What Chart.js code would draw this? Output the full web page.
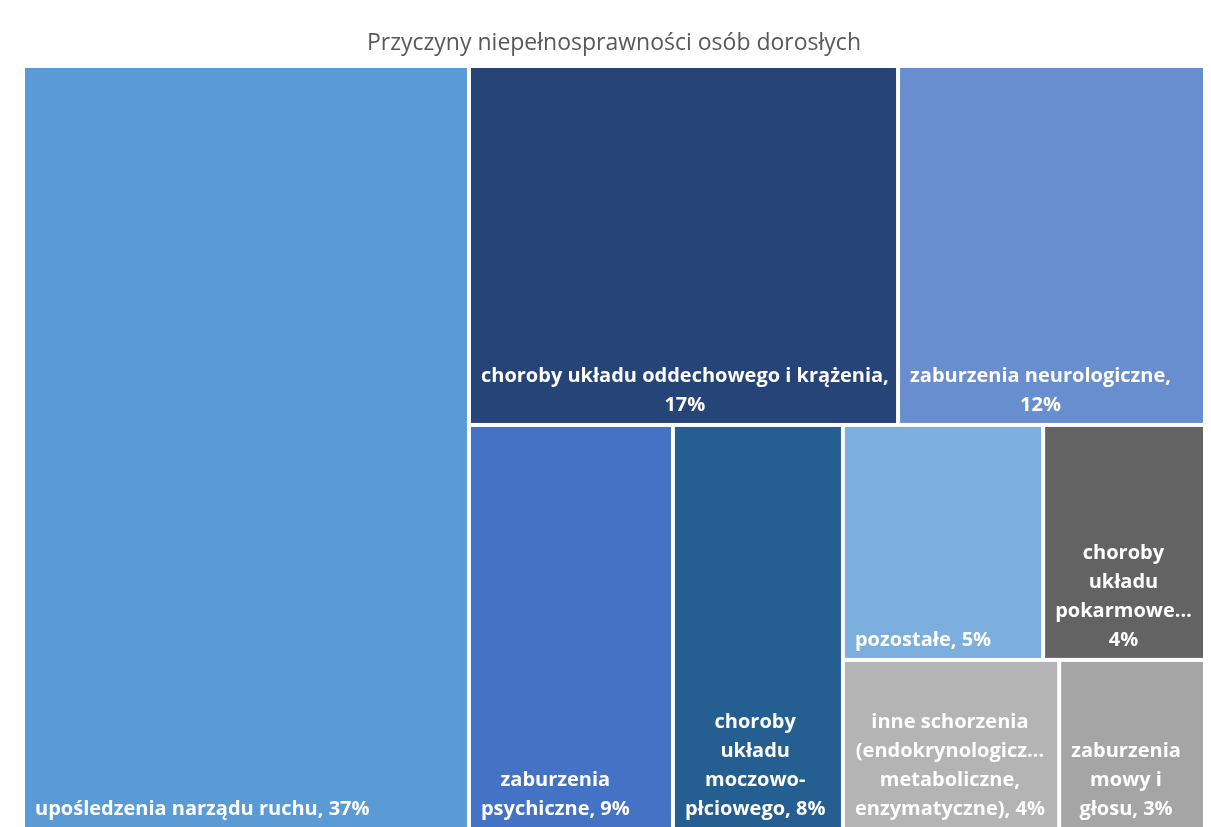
<!DOCTYPE html>
<html>
<head>
<meta charset="utf-8">
<script src="https://cdn.jsdelivr.net/npm/chart.js@4.4.1/dist/chart.umd.min.js"></script>
<style>
  html, body { margin: 0; padding: 0; background: #fff; overflow: hidden; }
</style>
</head>
<body>
<canvas id="treemap" width="1211" height="829"></canvas>
<script>
// categories and their share (%), sorted as in the chart
const categories = [
  "upośledzenia narządu ruchu",
  "choroby układu oddechowego i krążenia",
  "zaburzenia neurologiczne",
  "zaburzenia psychiczne",
  "choroby układu moczowo-płciowego",
  "pozostałe",
  "choroby układu pokarmowego",
  "inne schorzenia (endokrynologiczne, metaboliczne, enzymatyczne)",
  "zaburzenia mowy i głosu"
];
const values = [37.4, 16.93, 12.11, 9.06, 7.55, 5.17, 4.18, 4.02, 2.71];
const colors = ['#5B9BD5', '#264478', '#698ED0', '#4472C4', '#255E91', '#7CAFDD', '#636363', '#B4B4B4', '#A5A5A5'];

const GAP = 4;
const LABEL_FONT = 'bold 20px "Open Sans"';
const LINE_H = 29;
const PAD = 10;      // text offset from left edge
const WRAP_PAD = 8;  // margin used for wrapping

// squarified layout (d3 style, with aspect target ratio), in scale units 0..1
function squarify(vals, x0, y0, x1, y1, k, ratio) {
  const out = [];
  let total = vals.reduce((a, b) => a + b, 0);
  let i0 = 0, i1 = 0;
  const n = vals.length;
  while (i0 < n) {
    const dx = (x1 - x0) * k, dy = y1 - y0;
    let sum = vals[i1++], minV = sum, maxV = sum;
    const alpha = Math.max(dy / dx, dx / dy) / (total * ratio);
    let beta = sum * sum * alpha;
    let minRatio = Math.max(maxV / beta, beta / minV);
    for (; i1 < n; i1++) {
      const v = vals[i1];
      sum += v;
      if (v < minV) minV = v;
      if (v > maxV) maxV = v;
      beta = sum * sum * alpha;
      const r = Math.max(maxV / beta, beta / minV);
      if (r > minRatio) { sum -= v; break; }
      minRatio = r;
    }
    if (dx < dy) {
      const yb = y0 + (y1 - y0) * sum / total;
      let xx = x0;
      for (let i = i0; i < i1; i++) {
        const w = (x1 - x0) * vals[i] / sum;
        out.push({ index: i, x0: xx, x1: xx + w, y0: y0, y1: yb });
        xx += w;
      }
      y0 = yb;
    } else {
      const xb = x0 + (x1 - x0) * sum / total;
      let yy = y0;
      for (let i = i0; i < i1; i++) {
        const h = (y1 - y0) * vals[i] / sum;
        out.push({ index: i, x0: x0, x1: xb, y0: yy, y1: yy + h });
        yy += h;
      }
      x0 = xb;
    }
    total -= sum;
    i0 = i1;
  }
  return out;
}

function fitWord(ctx, w, maxW) {
  if (ctx.measureText(w).width <= maxW) return w;
  while (w.length > 1 && ctx.measureText(w + '…').width > maxW) w = w.slice(0, -1);
  return w + '…';
}

// break on spaces and after hyphens
function wrap(ctx, text, maxW) {
  const tokens = [];
  text.split(' ').forEach(word => {
    const parts = word.split(/(?<=-)/);
    parts.forEach((p, j) => tokens.push({ t: p, sep: j === 0 ? ' ' : '' }));
  });
  const lines = [];
  let cur = '';
  tokens.forEach(tok => {
    const w = fitWord(ctx, tok.t, maxW);
    const test = cur ? cur + tok.sep + w : w;
    if (ctx.measureText(test).width <= maxW) cur = test;
    else { if (cur) lines.push(cur); cur = w; }
  });
  if (cur) lines.push(cur);
  return lines;
}

const treemapPlugin = {
  id: 'treemap',
  afterDatasetsDraw(chart) {
    const { ctx, chartArea, scales: { x, y } } = chart;
    const k = chartArea.width / chartArea.height;
    const rects = squarify(values, 0, 0, 1, 1, k, 0.8);
    ctx.save();
    rects.forEach(r => {
      const left = x.getPixelForValue(r.x0) + GAP / 2;
      const right = x.getPixelForValue(r.x1) - GAP / 2;
      const top = y.getPixelForValue(r.y0) + GAP / 2;
      const bottom = y.getPixelForValue(r.y1) - GAP / 2;
      ctx.fillStyle = colors[r.index];
      ctx.fillRect(left, top, right - left, bottom - top);

      // label
      ctx.font = LABEL_FONT;
      const text = categories[r.index] + ', ' + Math.round(values[r.index]) + '%';
      const lines = wrap(ctx, text, right - left - 2 * WRAP_PAD);
      const bw = Math.max(...lines.map(l => ctx.measureText(l).width));
      const cx = left + PAD + bw / 2;
      ctx.fillStyle = '#ffffff';
      ctx.textAlign = 'center';
      ctx.textBaseline = 'middle';
      lines.forEach((l, i) => {
        ctx.fillText(l, cx, bottom - 18 - (lines.length - 1 - i) * LINE_H);
      });
    });
    ctx.restore();
  }
};

new Chart(document.getElementById('treemap'), {
  type: 'scatter',
  data: {
    labels: categories,
    datasets: [{ label: 'udział', data: [] }]
  },
  options: {
    responsive: false,
    animation: false,
    layout: { padding: { left: 23, right: 6, top: 0, bottom: 0 } },
    scales: {
      x: { type: 'linear', min: 0, max: 1, display: false },
      y: { type: 'linear', min: 0, max: 1, reverse: true, display: false }
    },
    plugins: {
      legend: { display: false },
      tooltip: { enabled: false },
      title: {
        display: true,
        text: 'Przyczyny niepełnosprawności osób dorosłych',
        color: '#595959',
        font: { family: 'Open Sans', size: 23, weight: 'normal' },
        padding: { top: 30, bottom: 8.4 }
      }
    }
  },
  plugins: [treemapPlugin]
});
</script>
</body>
</html>
